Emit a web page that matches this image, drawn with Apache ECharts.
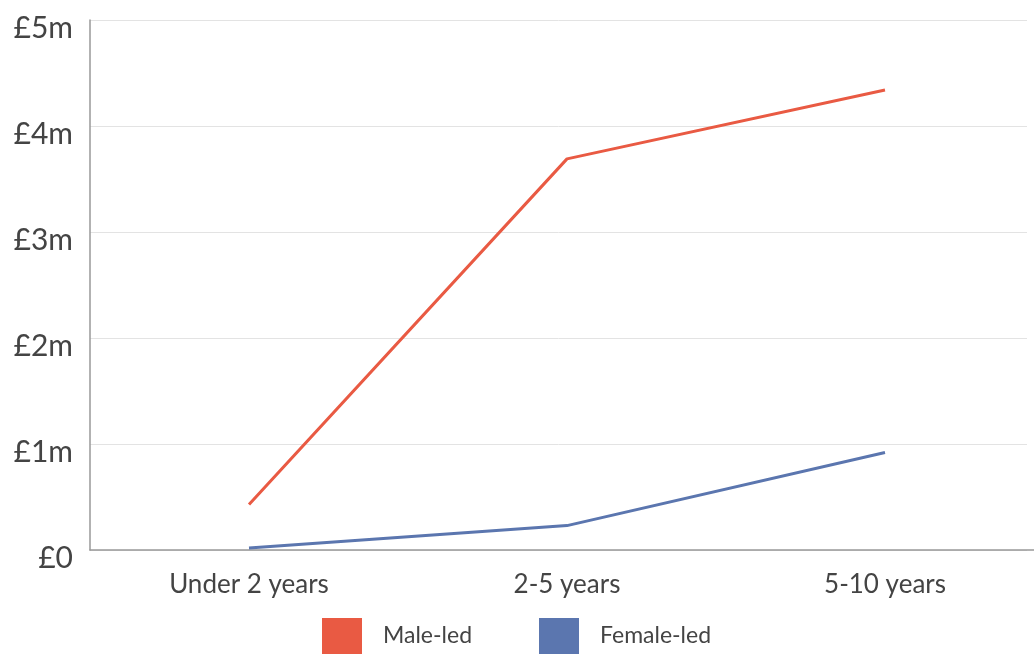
<!DOCTYPE html>
<html><head><meta charset="utf-8">
<script src="https://cdn.jsdelivr.net/npm/echarts@6/dist/echarts.min.js"></script>
<style>html,body{margin:0;padding:0;background:#fff}#c{width:1034px;height:654px}</style>
</head><body><div id="c"></div>
<script>
const categories = ['Under 2 years', '2-5 years', '5-10 years'];
const maleLed = [0.43, 3.69, 4.34];
const femaleLed = [0.02, 0.23, 0.92];
const yTicks = ['£0', '£1m', '£2m', '£3m', '£4m', '£5m'];

const font = 'Lato, "Open Sans", sans-serif';
const chart = echarts.init(document.getElementById('c'));
chart.setOption({
  animation: false,
  backgroundColor: '#fff',
  grid: [
    {left: 90, width: 954, top: 20, bottom: 104, outerBoundsMode: 'none', containLabel: false},
    {left: 90, right: 7, top: 20, bottom: 104, outerBoundsMode: 'none', containLabel: false}
  ],
  legend: {
    left: 322, top: 618, padding: 0, itemWidth: 40, itemHeight: 36, itemGap: 67,
    icon: 'rect',
    textStyle: {fontFamily: font, fontSize: 23, color: '#444', padding: [0, 0, 0, 16]},
    data: ['Male-led', 'Female-led']
  },
  xAxis: [
    {
      type: 'category', gridIndex: 0, data: categories, boundaryGap: true,
      axisLine: {lineStyle: {color: '#999', width: 1.5}},
      axisTick: {show: false},
      axisLabel: {fontFamily: font, fontSize: 26, color: '#444', margin: 22}
    },
    {type: 'category', gridIndex: 1, data: categories, show: false}
  ],
  yAxis: [
    {
      type: 'value', gridIndex: 0, min: 0, max: 5, interval: 1,
      axisLine: {show: true, lineStyle: {color: '#999', width: 1.5}},
      axisTick: {show: false},
      splitLine: {show: false},
      axisLabel: {fontFamily: font, fontSize: 30, color: '#444', margin: 17,
        verticalAlign: 'top', lineHeight: 16,
        formatter: v => yTicks[Math.round(v)]}
    },
    {
      type: 'value', gridIndex: 1, min: 0, max: 5, interval: 1,
      axisLine: {show: false}, axisTick: {show: false}, axisLabel: {show: false},
      splitLine: {show: true, lineStyle: {color: '#e3e3e3', width: 1}}
    }
  ],
  series: [
    {name: 'Male-led', type: 'line', data: maleLed, xAxisIndex: 0, yAxisIndex: 0,
      symbol: 'none', color: '#E95A43', lineStyle: {width: 3, color: '#E95A43'}, z: 3},
    {name: 'Female-led', type: 'line', data: femaleLed, xAxisIndex: 0, yAxisIndex: 0,
      symbol: 'none', color: '#5B76AF', lineStyle: {width: 3, color: '#5B76AF'}, z: 3}
  ]
});
</script></body></html>
